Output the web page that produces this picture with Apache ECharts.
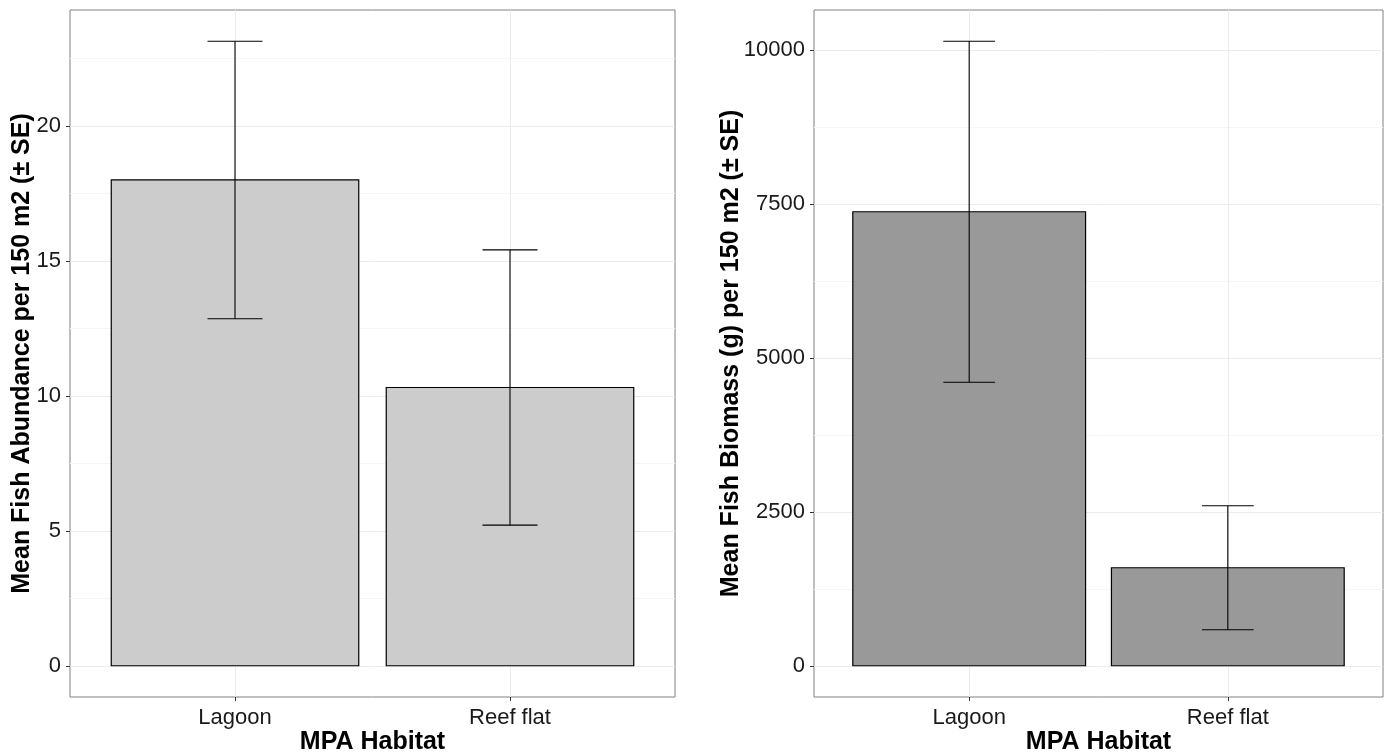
<!DOCTYPE html>
<html>
<head>
<meta charset="utf-8">
<script src="https://cdn.jsdelivr.net/npm/echarts@6/dist/echarts.min.js"></script>
<style>
  html, body { margin: 0; padding: 0; background: #fff; }
  #chart-container { width: 1386px; height: 756px; }
</style>
</head>
<body>
<div id="chart-container"></div>
<script>
// categories and values
var habitats = ['Lagoon', 'Reef flat'];
var abundanceMean = [18.0, 10.31];
var abundanceSE = [5.14, 5.1];
var biomassMean = [7375, 1592];
var biomassSE = [2770, 1007];

// tick labels (major) and minor grid positions
var abundanceTicks = [0, 5, 10, 15, 20];
var abundanceMinor = [2.5, 7.5, 12.5, 17.5, 22.5];
var biomassTicks = [0, 2500, 5000, 7500, 10000];
var biomassMinor = [1250, 3750, 6250, 8750];
var habitatPos = [1, 2];

var font = "'Liberation Sans', Arial, sans-serif";

// bars + error bar rows, x = position of the habitat on the value axis
function barRows(means) {
  return means.map(function (m, i) { return [habitatPos[i], m]; });
}
function errRows(means, se) {
  return means.map(function (m, i) { return [habitatPos[i], m - se[i], m + se[i]]; });
}

// ggplot style 5% expansion of the y range
function yRange(means, se) {
  var top = Math.max.apply(null, means.map(function (m, i) { return m + se[i]; }));
  return [-top * 0.05, top * 1.05];
}

function renderBar(params, api) {
  var x = api.value(0), v = api.value(1);
  var p0 = api.coord([x - 0.45, v]);
  var p1 = api.coord([x + 0.45, 0]);
  return {
    type: 'rect',
    shape: { x: p0[0], y: p0[1], width: p1[0] - p0[0], height: p1[1] - p0[1] },
    style: { fill: api.visual('color'), stroke: '#000', lineWidth: 1.2 }
  };
}

function renderErr(params, api) {
  var x = api.value(0);
  var lo = api.coord([x, api.value(1)]);
  var hi = api.coord([x, api.value(2)]);
  var cl = api.coord([x - 0.1, api.value(1)]);
  var cr = api.coord([x + 0.1, api.value(1)]);
  var st = { stroke: '#000', lineWidth: 1.1 };
  return {
    type: 'group',
    children: [
      { type: 'line', shape: { x1: lo[0], y1: lo[1], x2: hi[0], y2: hi[1] }, style: st },
      { type: 'line', shape: { x1: cl[0], y1: lo[1], x2: cr[0], y2: lo[1] }, style: st },
      { type: 'line', shape: { x1: cl[0], y1: hi[1], x2: cr[0], y2: hi[1] }, style: st }
    ]
  };
}

function xAxisFor(gi) {
  return {
    gridIndex: gi,
    type: 'value',
    position: 'bottom',
    min: 0.4,
    max: 2.6,
    name: 'MPA Habitat',
    nameLocation: 'middle',
    nameGap: 33,
    nameMoveOverlap: false,
    nameTextStyle: { fontFamily: font, fontSize: 25, fontWeight: 'bold', color: '#000' },
    axisLine: { show: false, onZero: false },
    axisTick: { show: true, length: 4, customValues: habitatPos, lineStyle: { color: '#333' } },
    axisLabel: {
      customValues: habitatPos,
      fontFamily: font, fontSize: 22, color: '#1a1a1a', margin: 10,
      formatter: function (v) { return habitats[Math.round(v) - 1]; }
    },
    splitLine: { show: true, lineStyle: { color: '#ebebeb', width: 1 } }
  };
}

function yAxisFor(gi, range, ticks, title, gap) {
  return {
    gridIndex: gi,
    type: 'value',
    position: 'left',
    min: range[0],
    max: range[1],
    name: title,
    nameLocation: 'middle',
    nameRotate: 90,
    nameGap: gap,
    nameMoveOverlap: false,
    nameTextStyle: { fontFamily: font, fontSize: 25, fontWeight: 'bold', color: '#000' },
    axisLine: { show: false, onZero: false },
    axisTick: { show: true, length: 4, customValues: ticks, lineStyle: { color: '#333' } },
    axisLabel: {
      customValues: ticks, fontFamily: font, fontSize: 22, color: '#1a1a1a', margin: 9,
      formatter: function (v) { return String(v); }
    },
    splitLine: { show: true, lineStyle: { color: '#ebebeb', width: 1 } }
  };
}

function minorAxisFor(gi, range, minor) {
  return {
    gridIndex: gi,
    type: 'value',
    position: 'left',
    min: range[0],
    max: range[1],
    axisLine: { show: false, onZero: false },
    axisTick: { show: false, customValues: minor },
    axisLabel: { show: false, customValues: minor },
    splitLine: { show: true, lineStyle: { color: '#f6f6f6', width: 1 } }
  };
}

var abRange = yRange(abundanceMean, abundanceSE);
var bioRange = yRange(biomassMean, biomassSE);

var dom = document.getElementById('chart-container');
var myChart = echarts.init(dom, null, { renderer: 'canvas', useDirtyRect: false });

var option = {
  animation: false,
  backgroundColor: '#fff',
  grid: [
    { left: 70, top: 10, width: 605, height: 687, outerBoundsMode: 'none', containLabel: false,
      show: true, borderColor: '#808080', borderWidth: 1, backgroundColor: '#fff' },
    { left: 814, top: 10, width: 569, height: 687, outerBoundsMode: 'none', containLabel: false,
      show: true, borderColor: '#808080', borderWidth: 1, backgroundColor: '#fff' }
  ],
  xAxis: [xAxisFor(0), xAxisFor(1)],
  yAxis: [
    yAxisFor(0, abRange, abundanceTicks, 'Mean Fish Abundance per 150 m2 (\u00b1 SE)', 35),
    minorAxisFor(0, abRange, abundanceMinor),
    yAxisFor(1, bioRange, biomassTicks, 'Mean Fish Biomass (g) per 150 m2 (\u00b1 SE)', 70),
    minorAxisFor(1, bioRange, biomassMinor)
  ],
  series: [
    {
      type: 'custom', xAxisIndex: 0, yAxisIndex: 0, z: 3,
      itemStyle: { color: '#cccccc' },
      renderItem: renderBar,
      data: barRows(abundanceMean)
    },
    {
      type: 'custom', xAxisIndex: 0, yAxisIndex: 0, z: 4,
      renderItem: renderErr,
      data: errRows(abundanceMean, abundanceSE)
    },
    {
      type: 'custom', xAxisIndex: 1, yAxisIndex: 2, z: 3,
      itemStyle: { color: '#999999' },
      renderItem: renderBar,
      data: barRows(biomassMean)
    },
    {
      type: 'custom', xAxisIndex: 1, yAxisIndex: 2, z: 4,
      renderItem: renderErr,
      data: errRows(biomassMean, biomassSE)
    }
  ]
};

if (option && typeof option === 'object') {
  myChart.setOption(option);
}

window.addEventListener('resize', myChart.resize);
</script>
</body>
</html>
